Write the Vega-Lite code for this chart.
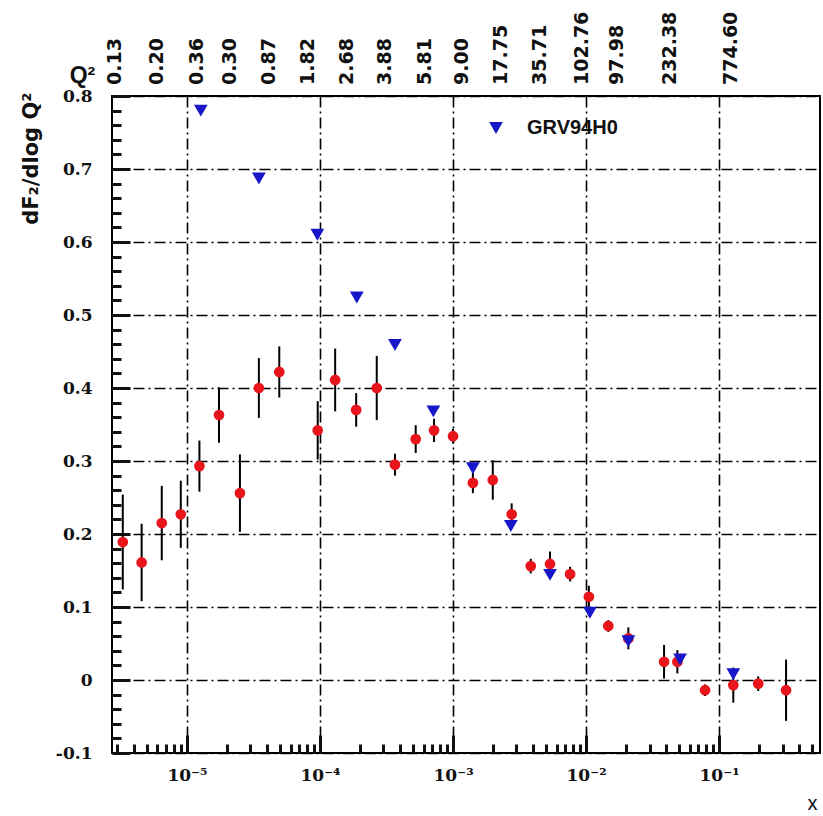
{
  "$schema": "https://vega.github.io/schema/vega-lite/v6.json",
  "width": 708,
  "height": 657,
  "autosize": {"type": "none"},
  "padding": {"left": 112, "top": 96, "right": 3, "bottom": 63},
  "background": "white",
  "config": {
    "view": {"stroke": "black", "strokeWidth": 2},
    "axis": {"labelFlush": false, "labelOverlap": false, "labelBound": false}
  },
  "datasets": {
    "f2slope": [
      {"x": 3.29e-6, "y": 0.189, "err": 0.065},
      {"x": 4.56e-6, "y": 0.161, "err": 0.053},
      {"x": 6.46e-6, "y": 0.215, "err": 0.051},
      {"x": 8.98e-6, "y": 0.227, "err": 0.046},
      {"x": 1.24e-5, "y": 0.293, "err": 0.035},
      {"x": 1.74e-5, "y": 0.363, "err": 0.038},
      {"x": 2.50e-5, "y": 0.256, "err": 0.053},
      {"x": 3.47e-5, "y": 0.400, "err": 0.041},
      {"x": 4.94e-5, "y": 0.422, "err": 0.035},
      {"x": 9.61e-5, "y": 0.342, "err": 0.040},
      {"x": 1.30e-4, "y": 0.411, "err": 0.043},
      {"x": 1.87e-4, "y": 0.370, "err": 0.023},
      {"x": 2.67e-4, "y": 0.400, "err": 0.044},
      {"x": 3.66e-4, "y": 0.295, "err": 0.015},
      {"x": 5.24e-4, "y": 0.330, "err": 0.019},
      {"x": 7.20e-4, "y": 0.342, "err": 0.016},
      {"x": 1.00e-3, "y": 0.334, "err": 0.010},
      {"x": 1.41e-3, "y": 0.270, "err": 0.014},
      {"x": 1.99e-3, "y": 0.274, "err": 0.027},
      {"x": 2.76e-3, "y": 0.227, "err": 0.015},
      {"x": 3.84e-3, "y": 0.156, "err": 0.010},
      {"x": 5.36e-3, "y": 0.159, "err": 0.017},
      {"x": 7.59e-3, "y": 0.145, "err": 0.010},
      {"x": 1.05e-2, "y": 0.114, "err": 0.015},
      {"x": 1.47e-2, "y": 0.074, "err": 0.008},
      {"x": 2.08e-2, "y": 0.057, "err": 0.015},
      {"x": 3.86e-2, "y": 0.025, "err": 0.023},
      {"x": 4.86e-2, "y": 0.025, "err": 0.016},
      {"x": 7.85e-2, "y": -0.014, "err": 0.008},
      {"x": 0.128, "y": -0.007, "err": 0.024},
      {"x": 0.197, "y": -0.005, "err": 0.010},
      {"x": 0.319, "y": -0.014, "err": 0.042}
    ],
    "grv94": [
      {"x": 1.27e-5, "y": 0.780},
      {"x": 3.47e-5, "y": 0.687},
      {"x": 9.55e-5, "y": 0.610},
      {"x": 1.89e-4, "y": 0.524},
      {"x": 3.66e-4, "y": 0.459},
      {"x": 7.11e-4, "y": 0.368},
      {"x": 1.41e-3, "y": 0.290},
      {"x": 2.72e-3, "y": 0.211},
      {"x": 5.36e-3, "y": 0.144},
      {"x": 1.07e-2, "y": 0.092},
      {"x": 2.08e-2, "y": 0.053},
      {"x": 5.09e-2, "y": 0.028},
      {"x": 0.128, "y": 0.008}
    ],
    "q2bins": [
      {"x": 2.88e-6, "label": "0.13"},
      {"x": 5.94e-6, "label": "0.20"},
      {"x": 1.19e-5, "label": "0.36"},
      {"x": 2.10e-5, "label": "0.30"},
      {"x": 4.1e-5, "label": "0.87"},
      {"x": 8.1e-5, "label": "1.82"},
      {"x": 1.60e-4, "label": "2.68"},
      {"x": 3.08e-4, "label": "3.88"},
      {"x": 6.16e-4, "label": "5.81"},
      {"x": 1.17e-3, "label": "9.00"},
      {"x": 2.30e-3, "label": "17.75"},
      {"x": 4.51e-3, "label": "35.71"},
      {"x": 9.33e-3, "label": "102.76"},
      {"x": 1.71e-2, "label": "97.98"},
      {"x": 4.29e-2, "label": "232.38"},
      {"x": 0.123, "label": "774.60"}
    ]
  },
  "layer": [
    {
      "data": {"name": "f2slope"},
      "mark": {"type": "errorbar", "color": "black", "thickness": 2},
      "encoding": {
        "x": {
          "field": "x", "type": "quantitative",
          "scale": {"type": "log", "domain": [2.73e-6, 0.574], "nice": false},
          "axis": {
            "orient": "bottom",
            "values": [3e-6, 4e-6, 5e-6, 6e-6, 7e-6, 8e-6, 9e-6, 1e-5, 2e-5, 3e-5, 4e-5, 5e-5, 6e-5, 7e-5, 8e-5, 9e-5, 1e-4, 2e-4, 3e-4, 4e-4, 5e-4, 6e-4, 7e-4, 8e-4, 9e-4, 1e-3, 2e-3, 3e-3, 4e-3, 5e-3, 6e-3, 7e-3, 8e-3, 9e-3, 1e-2, 2e-2, 3e-2, 4e-2, 5e-2, 6e-2, 7e-2, 8e-2, 9e-2, 0.1, 0.2, 0.3, 0.4, 0.5],
            "labelExpr": "abs(log(datum.value) / LN10 - round(log(datum.value) / LN10)) < 0.001 ? '10' + ['⁻⁵', '⁻⁴', '⁻³', '⁻²', '⁻¹'][round(log(datum.value) / LN10) + 5] : ''",
            "ticks": true, "domain": false,
            "tickColor": "#111111", "tickWidth": 3, "tickOpacity": 1,
            "tickSize": {"condition": {"test": "abs(log(datum.value) / LN10 - round(log(datum.value) / LN10)) < 0.001", "value": -18}, "value": -9},
            "grid": true, "gridColor": "black", "gridDash": [11, 4, 2, 4], "gridWidth": 1.6,
            "gridOpacity": {"condition": {"test": "abs(log(datum.value) / LN10 - round(log(datum.value) / LN10)) < 0.001", "value": 1}, "value": 0},
            "labelFont": "DejaVu Serif", "labelFontWeight": "bold", "labelFontSize": 17, "labelColor": "#111", "labelPadding": 32,
            "title": "x", "titleX": 700, "titleY": 56, "titleAlign": "center", "titleBaseline": "alphabetic",
            "titleFont": "Liberation Sans", "titleFontSize": 20, "titleFontWeight": "normal", "titleColor": "#111"
          }
        },
        "y": {
          "field": "y", "type": "quantitative",
          "scale": {"domain": [-0.1, 0.8], "nice": false, "zero": false},
          "axis": {
            "orient": "left",
            "values": [-0.1, -0.08, -0.06, -0.04, -0.02, 0, 0.02, 0.04, 0.06, 0.08, 0.1, 0.12, 0.14, 0.16, 0.18, 0.2, 0.22, 0.24, 0.26, 0.28, 0.3, 0.32, 0.34, 0.36, 0.38, 0.4, 0.42, 0.44, 0.46, 0.48, 0.5, 0.52, 0.54, 0.56, 0.58, 0.6, 0.62, 0.64, 0.66, 0.68, 0.7, 0.72, 0.74, 0.76, 0.78, 0.8],
            "labelExpr": "abs(datum.value * 10 - round(datum.value * 10)) < 0.001 ? toString(round(datum.value * 10) / 10) : ''",
            "ticks": true, "domain": false,
            "tickColor": "#111111", "tickWidth": 3, "tickOpacity": 1,
            "tickSize": {"condition": {"test": "abs(datum.value * 10 - round(datum.value * 10)) < 0.001", "value": -18}, "value": -9},
            "grid": true, "gridColor": "black", "gridDash": [11, 4, 2, 4], "gridWidth": 1.6,
            "gridOpacity": {"condition": {"test": "abs(datum.value * 10 - round(datum.value * 10)) < 0.001", "value": 1}, "value": 0},
            "labelFont": "DejaVu Serif", "labelFontWeight": "bold", "labelFontSize": 17, "labelColor": "#111", "labelPadding": 38,
            "title": "dF₂/dlog Q²", "titleAngle": 270, "titleX": -75, "titleY": -4, "titleAlign": "right", "titleBaseline": "alphabetic",
            "titleFont": "DejaVu Sans", "titleFontSize": 21, "titleFontWeight": "bold", "titleColor": "#111"
          }
        },
        "yError": {"field": "err"}
      }
    },
    {
      "data": {"name": "f2slope"},
      "mark": {"type": "point", "shape": "circle", "filled": true, "color": "#e8161c", "size": 115, "opacity": 1},
      "encoding": {
        "x": {"field": "x", "type": "quantitative", "axis": null},
        "y": {"field": "y", "type": "quantitative", "axis": null}
      }
    },
    {
      "data": {"name": "grv94"},
      "mark": {"type": "point", "shape": "triangle-down", "filled": true, "size": 190, "opacity": 1},
      "encoding": {
        "x": {"field": "x", "type": "quantitative", "axis": null},
        "y": {"field": "y", "type": "quantitative", "axis": null},
        "color": {
          "datum": "GRV94H0", "type": "nominal",
          "scale": {"range": ["#1717c9"]},
          "legend": {
            "orient": "none", "legendX": 374, "legendY": 22, "padding": 0, "title": null,
            "symbolType": "triangle-down", "symbolSize": 190, "symbolStrokeWidth": 0,
            "labelFont": "Liberation Sans", "labelFontSize": 20, "labelFontWeight": "bold", "labelColor": "#111", "labelOffset": 21
          }
        }
      }
    },
    {
      "data": {"name": "q2bins"},
      "mark": {"type": "text", "angle": 270, "align": "left", "baseline": "middle", "dx": 11, "font": "DejaVu Sans", "fontWeight": "bold", "fontSize": 19, "color": "#111"},
      "encoding": {
        "x": {
          "field": "x", "type": "quantitative",
          "axis": {
            "orient": "top", "labels": false, "ticks": false, "domain": false, "grid": false,
            "title": "Q²", "titleAngle": 0, "titleX": -30, "titleY": -14, "titleAlign": "center", "titleBaseline": "alphabetic",
            "titleFont": "Liberation Sans", "titleFontSize": 23, "titleFontWeight": "bold", "titleColor": "#111"
          }
        },
        "y": {"datum": 0.8, "type": "quantitative", "axis": null},
        "text": {"field": "label"}
      }
    }
  ],
  "resolve": {"axis": {"x": "independent", "y": "independent"}}
}
